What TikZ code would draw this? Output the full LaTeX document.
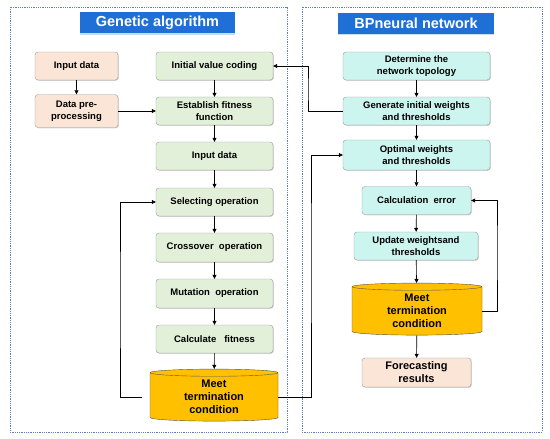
\documentclass[tikz,border=0pt]{standalone}
\usepackage{fontspec}
\setmainfont{Liberation Sans}
\usepackage{tikz}
\usetikzlibrary{arrows.meta,shapes.geometric,shadows}

\definecolor{peach}{RGB}{251,229,214}
\definecolor{leaf}{RGB}{226,240,217}
\definecolor{aqua}{RGB}{204,245,240}
\definecolor{gold}{RGB}{255,192,0}
\definecolor{titleblue}{RGB}{31,112,214}
\definecolor{framec}{RGB}{91,127,191}

\begin{document}
\begin{tikzpicture}[x=1pt,y=-1pt,
  box/.style={draw=gray!80,rounded corners=3pt,align=center,minimum height=28pt,
    font=\bfseries\fontsize{9.5}{11.5}\selectfont,inner sep=1pt,
    drop shadow={shadow xshift=0.8pt,shadow yshift=-0.8pt,opacity=0.35}},
  obox/.style={box,fill=peach,minimum width=83pt},
  gbox/.style={box,fill=leaf,minimum width=117pt},
  cbox/.style={box,fill=aqua},
  meet/.style={cylinder,shape border rotate=90,draw=gray!70!black,fill=gold,
    cylinder uses custom fill,cylinder body fill=gold,cylinder end fill=gold!70!white,
    aspect=0.12,align=center,font=\bfseries\fontsize{11}{13}\selectfont,inner sep=0pt},
  head/.style={fill=titleblue,text=white,font=\bfseries\fontsize{14.5}{16}\selectfont,
    minimum height=21pt,drop shadow={shadow xshift=0pt,shadow yshift=-1.5pt,color=titleblue!40,opacity=0.6}},
  frame/.style={draw=framec,densely dotted,line width=0.8pt},
  arr/.style={-{Triangle[length=4pt,width=4pt]},line width=0.6pt}]
\useasboundingbox (0,0) rectangle (550,439);

\draw[frame] (10,7) rectangle (287,432);
\draw[frame] (302,7) rectangle (542,432);

\node[head,minimum width=155pt] (gahead) at (157.5,22.5) {Genetic algorithm};
\node[head,minimum width=156pt] (bphead) at (416,23) {BPneural network};

% genetic algorithm
\node[obox] (indata) at (76.5,66) {Input data};
\node[obox,minimum height=33pt] (prep) at (76.5,111) {Data pre-\\processing};
\node[gbox] (init) at (214.5,66) {Initial value coding};
\node[gbox] (fit) at (214.5,111) {Establish fitness\\function};
\node[gbox] (gin) at (214.5,156) {Input data};
\node[gbox] (sel) at (214.5,202) {Selecting operation};
\node[gbox,minimum height=29pt] (cross) at (214.5,247.5) {Crossover\ \ operation};
\node[gbox,minimum height=29pt] (mut) at (214.5,293.5) {Mutation\ \ operation};
\node[gbox] (calc) at (214.5,339) {Calculate\ \ \ fitness};
\node[meet,minimum width=128pt,minimum height=52pt] (gmeet) at (214,397) {\mbox{}\\[-5pt]Meet\\termination\\condition};

% bp neural network
\node[cbox,minimum width=147pt] (topo) at (416.5,66) {Determine the\\network topology};
\node[cbox,minimum width=147pt] (gen) at (416.5,111) {Generate initial weights\\and thresholds};
\node[cbox,minimum width=147pt,minimum height=30pt] (opt) at (416.5,155) {Optimal weights\\and thresholds};
\node[cbox,minimum width=109pt] (err) at (416.5,200.5) {Calculation\ \ error};
\node[cbox,minimum width=124pt] (upd) at (416,246) {Update weightsand\\thresholds};
\node[meet,minimum width=130pt,minimum height=52pt] (bmeet) at (417,311) {\mbox{}\\[-5pt]Meet\\termination\\condition};
\node[obox,minimum width=109pt,minimum height=29pt,font=\bfseries\fontsize{11}{13}\selectfont] (fore) at (416.5,372.5) {Forecasting\\results};

\coordinate (loopl) at (120,300);
\coordinate (loopm) at (311,250);
\coordinate (loopt) at (308,90);
\coordinate (loopr) at (497,250);

\draw[arr] (indata) -- (prep);
\draw[arr] (prep) -- (fit);
\draw[arr] (init) -- (fit);
\draw[arr] (fit) -- (gin);
\draw[arr] (gin) -- (sel);
\draw[arr] (sel) -- (cross);
\draw[arr] (cross) -- (mut);
\draw[arr] (mut) -- (calc);
\draw[arr] (calc) -- (gmeet);
\draw[arr,shorten <=8pt] (gmeet.west) -| (loopl) |- (sel.west);
\draw[arr] (gmeet.east) -| (loopm) |- (opt.west);
\draw[arr] (gen.west) -| (loopt) |- (init.east);

\draw[arr] (topo) -- (gen);
\draw[arr] (gen) -- (opt);
\draw[arr] (opt) -- (err);
\draw[arr] (err) -- (upd);
\draw[arr] (upd) -- (bmeet);
\draw[arr] (bmeet) -- (fore);
\draw[arr] (bmeet.east) -| (loopr) |- (err.east);
\end{tikzpicture}
\end{document}
